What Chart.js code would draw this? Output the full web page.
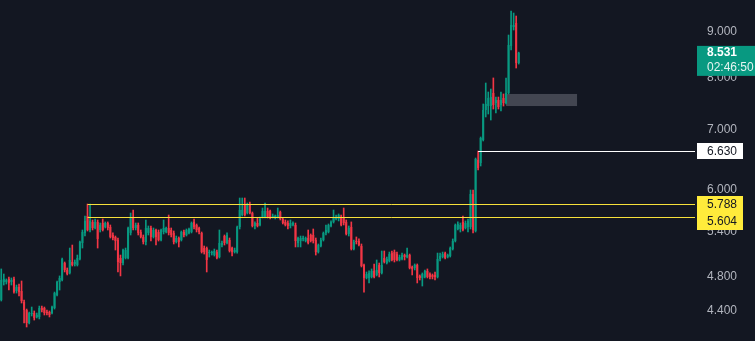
<!DOCTYPE html>
<html>
<head>
<meta charset="utf-8">
<script src="https://cdn.jsdelivr.net/npm/chart.js@4.4.1/dist/chart.umd.min.js"></script>
<style>
  html, body { margin: 0; padding: 0; background: #131722; overflow: hidden; }
  #wrap { width: 755px; height: 341px; }
</style>
</head>
<body>
<div id="wrap"><canvas id="chart" width="755" height="341"></canvas></div>
<script>
// candle data (oldest first)
const opens = [
  4.527,4.741,4.741,4.778,4.741,4.778,4.632,4.680,4.632,4.503,4.412,4.268,4.367,4.378,4.334,4.334,4.435,4.435,4.390,4.390,
  4.378,4.435,4.585,4.741,4.765,4.977,4.889,4.852,4.990,4.965,4.952,5.029,5.239,5.376,5.615,5.417,5.530,5.445,5.530,5.417,
  5.515,5.459,5.515,5.459,5.348,5.321,5.280,5.042,4.977,5.042,5.042,5.376,5.601,5.445,5.487,5.389,5.321,5.253,5.376,5.445,
  5.321,5.417,5.389,5.280,5.389,5.389,5.445,5.417,5.376,5.253,5.307,5.280,5.389,5.348,5.376,5.389,5.530,5.487,5.445,5.376,
  5.172,5.172,5.106,5.106,5.080,5.119,5.054,5.212,5.334,5.239,5.280,5.172,5.119,5.119,5.459,5.629,5.775,5.658,5.775,5.658,
  5.473,5.515,5.487,5.601,5.601,5.687,5.687,5.601,5.601,5.601,5.673,5.572,5.530,5.515,5.473,5.487,5.487,5.239,5.266,5.294,
  5.266,5.307,5.348,5.348,5.280,5.119,5.199,5.280,5.376,5.389,5.473,5.530,5.572,5.572,5.601,5.586,5.530,5.362,5.459,5.159,
  5.266,5.266,5.199,4.952,4.790,4.790,4.802,4.877,4.827,4.952,4.852,5.042,4.977,5.003,5.106,5.119,5.093,5.016,5.029,5.080,
  5.054,5.080,4.927,4.914,4.952,4.815,4.790,4.802,4.877,4.839,4.827,4.827,4.802,5.029,5.054,5.106,5.054,5.067,5.159,5.266,
  5.431,5.431,5.530,5.445,5.459,5.459,5.940,5.403,6.482,6.432,6.823,7.369,7.444,7.444,7.697,7.502,7.560,7.464,7.599,7.502,
  7.697,8.683,9.116,9.211,8.312
];
const highs = [
  4.902,4.839,4.778,4.802,4.790,4.802,4.704,4.716,4.753,4.527,4.423,4.390,4.446,4.401,4.378,4.457,4.457,4.446,4.412,4.401,
  4.457,4.620,4.753,4.815,5.042,4.990,4.914,5.172,5.212,5.016,5.080,5.266,5.417,5.615,5.790,5.790,5.558,5.572,5.558,5.515,
  5.572,5.530,5.530,5.487,5.376,5.334,5.307,5.080,5.159,5.172,5.459,5.658,5.702,5.515,5.515,5.417,5.348,5.558,5.473,5.473,
  5.445,5.431,5.417,5.431,5.558,5.459,5.629,5.445,5.403,5.334,5.321,5.403,5.417,5.431,5.445,5.530,5.572,5.501,5.459,5.389,
  5.199,5.186,5.146,5.133,5.159,5.146,5.417,5.266,5.348,5.376,5.307,5.186,5.172,5.473,5.880,5.880,5.880,5.805,5.820,5.673,
  5.530,5.586,5.601,5.731,5.805,5.731,5.702,5.644,5.629,5.731,5.687,5.586,5.558,5.544,5.558,5.530,5.515,5.321,5.334,5.334,
  5.321,5.417,5.362,5.431,5.307,5.226,5.307,5.389,5.487,5.501,5.544,5.702,5.629,5.644,5.629,5.731,5.558,5.473,5.530,5.280,
  5.321,5.294,5.226,4.965,4.864,4.877,4.902,4.965,5.016,4.977,5.133,5.133,5.054,5.119,5.133,5.146,5.119,5.080,5.106,5.093,
  5.172,5.093,4.939,4.965,4.965,4.827,4.852,4.889,4.902,4.852,4.839,4.864,5.106,5.106,5.119,5.119,5.093,5.186,5.294,5.501,
  5.530,5.515,5.615,5.544,5.572,6.002,6.002,6.515,6.632,6.876,7.483,7.897,7.717,7.776,8.000,7.618,7.618,7.717,7.678,7.999,
  8.931,9.497,9.449,9.377,8.547
];
const lows = [
  4.515,4.704,4.716,4.644,4.704,4.608,4.608,4.573,4.492,4.268,4.224,4.257,4.345,4.300,4.323,4.312,4.390,4.356,4.356,4.334,
  4.367,4.423,4.573,4.644,4.753,4.864,4.827,4.839,4.939,4.939,4.939,5.016,5.172,5.334,5.403,5.389,5.417,5.431,5.172,5.389,
  5.403,5.445,5.417,5.307,5.280,5.146,4.864,4.815,4.952,5.029,5.029,5.348,5.417,5.417,5.348,5.307,5.226,5.212,5.348,5.266,
  5.307,5.212,5.266,5.266,5.362,5.376,5.348,5.321,5.226,5.239,5.186,5.266,5.321,5.334,5.362,5.376,5.431,5.389,5.362,5.106,
  5.093,4.864,5.054,5.080,5.067,5.029,5.042,5.186,5.212,5.226,5.119,5.067,5.106,5.106,5.431,5.615,5.615,5.644,5.644,5.459,
  5.431,5.459,5.473,5.586,5.586,5.586,5.572,5.586,5.572,5.586,5.558,5.501,5.473,5.431,5.445,5.473,5.186,5.186,5.186,5.266,
  5.253,5.226,5.253,5.239,5.080,5.106,5.186,5.266,5.348,5.376,5.459,5.515,5.558,5.544,5.473,5.487,5.348,5.334,5.146,5.146,
  5.226,5.199,4.927,4.620,4.778,4.729,4.790,4.790,4.815,4.802,4.839,4.977,4.965,4.990,5.003,4.990,5.003,5.003,5.016,5.016,
  5.042,4.902,4.827,4.889,4.729,4.765,4.692,4.790,4.790,4.778,4.778,4.765,4.790,5.003,5.042,5.029,5.042,5.054,5.146,5.253,
  5.417,5.389,5.403,5.431,5.389,5.431,5.376,5.389,6.318,6.383,6.806,7.238,7.293,7.182,7.387,7.312,7.387,7.350,7.444,7.483,
  7.678,8.594,9.046,8.206,8.290
];
const closes = [
  4.765,4.778,4.765,4.729,4.765,4.620,4.680,4.620,4.515,4.412,4.268,4.378,4.378,4.323,4.356,4.435,4.412,4.378,4.378,4.356,
  4.446,4.608,4.741,4.790,5.029,4.889,4.839,5.016,4.952,4.990,5.042,5.253,5.389,5.544,5.417,5.544,5.445,5.530,5.294,5.487,
  5.417,5.515,5.445,5.321,5.307,5.266,4.990,4.977,5.146,5.146,5.445,5.601,5.445,5.487,5.376,5.321,5.253,5.445,5.445,5.321,
  5.417,5.321,5.280,5.417,5.445,5.445,5.376,5.348,5.253,5.307,5.253,5.389,5.348,5.417,5.431,5.515,5.459,5.417,5.389,5.119,
  5.119,5.016,5.119,5.119,5.133,5.042,5.239,5.239,5.239,5.348,5.133,5.119,5.146,5.459,5.702,5.702,5.629,5.775,5.658,5.473,
  5.515,5.473,5.572,5.687,5.687,5.601,5.601,5.615,5.615,5.629,5.572,5.515,5.487,5.473,5.515,5.515,5.266,5.307,5.307,5.307,
  5.307,5.239,5.266,5.266,5.119,5.212,5.280,5.376,5.417,5.487,5.530,5.586,5.601,5.629,5.487,5.515,5.362,5.445,5.159,5.253,
  5.253,5.212,4.939,4.790,4.839,4.852,4.877,4.802,4.889,4.852,4.952,4.990,5.029,5.093,5.016,5.016,5.016,5.054,5.080,5.054,
  5.080,4.914,4.902,4.952,4.790,4.790,4.839,4.877,4.802,4.802,4.802,4.802,5.029,5.067,5.093,5.042,5.080,5.172,5.266,5.487,
  5.501,5.487,5.417,5.515,5.544,5.940,5.417,6.498,6.350,6.858,7.369,7.483,7.599,7.618,7.464,7.560,7.425,7.560,7.502,7.697,
  8.705,9.163,9.163,8.312,8.531
];

const yTicks = [4.4, 4.8, 5.4, 6, 7, 8, 9];
const lastPrice = 8.531;
const countdown = "02:46:50";
// horizontal levels and the candle where each one starts
const levelPrices = [5.788, 5.604, 6.630];
const levelStart = [34, 34, 188];
// grey zone: candle range and price range
const zoneFrom = 199, zoneTo = 227;
const zoneLow = 7.444, zoneHigh = 7.678;
const emptySlots = 69; // blank space right of the last candle

const UP = "#089981";
const DOWN = "#f23645";
const BG = "#131722";
const FONT = "'Liberation Sans', Arial, sans-serif";

const labels = [];
for (let i = 0; i < opens.length + emptySlots; i++) labels.push(String(i));
const bodies = opens.map((o, i) => [o, closes[i]]);
const wicks = lows.map((l, i) => [l, highs[i]]);
const colors = opens.map((o, i) => closes[i] >= o ? UP : DOWN);

const overlay = {
  id: "overlay",
  beforeDraw(chart) {
    const ctx = chart.ctx;
    ctx.save();
    ctx.fillStyle = BG;
    ctx.fillRect(0, 0, chart.width, chart.height);
    ctx.restore();
  },
  beforeDatasetsDraw(chart) {
    const ctx = chart.ctx, xs = chart.scales.x, ys = chart.scales.y;
    const x1 = xs.getPixelForValue(zoneFrom), x2 = xs.getPixelForValue(zoneTo);
    const y1 = ys.getPixelForValue(zoneHigh), y2 = ys.getPixelForValue(zoneLow);
    ctx.save();
    ctx.fillStyle = "#434651";
    ctx.fillRect(x1, y1, x2 - x1, y2 - y1);
    ctx.restore();
  },
  afterDatasetsDraw(chart) {
    const ctx = chart.ctx, xs = chart.scales.x, ys = chart.scales.y;
    const right = chart.chartArea.right;
    ctx.save();
    ctx.lineWidth = 1;
    levelPrices.forEach((p, i) => {
      const y = Math.round(ys.getPixelForValue(p)) + 0.5;
      ctx.strokeStyle = i < 2 ? "#f7e13b" : "#ffffff";
      ctx.beginPath();
      ctx.moveTo(xs.getPixelForValue(levelStart[i]), y);
      ctx.lineTo(right, y);
      ctx.stroke();
    });
    ctx.restore();
  },
  afterDraw(chart) {
    const ctx = chart.ctx, ys = chart.scales.y;
    const left = chart.chartArea.right + 2;
    const tx = chart.chartArea.right + 12;
    ctx.save();
    ctx.textBaseline = "middle";
    ctx.textAlign = "left";

    // last price + countdown
    const yl = ys.getPixelForValue(lastPrice);
    ctx.fillStyle = UP;
    ctx.fillRect(left, yl - 7, chart.width - left, 30);
    ctx.fillStyle = "#ffffff";
    ctx.font = "bold 12px " + FONT;
    ctx.fillText(lastPrice.toFixed(3), tx, yl);
    ctx.font = "12px " + FONT;
    ctx.fillStyle = "#e6f4f1";
    ctx.fillText(countdown, tx, yl + 15);

    // white level
    const yw = ys.getPixelForValue(levelPrices[2]);
    ctx.fillStyle = "#ffffff";
    ctx.fillRect(left, Math.round(yw) - 8, 46, 16);
    ctx.fillStyle = BG;
    ctx.fillText(levelPrices[2].toFixed(3), tx, yw + 0.5);

    // yellow levels, stacked so they do not overlap
    let prevBottom = -100;
    [0, 1].forEach(i => {
      let yc = ys.getPixelForValue(levelPrices[i]);
      if (yc - 8 < prevBottom) yc = prevBottom + 8;
      ctx.fillStyle = "#ffeb3b";
      ctx.fillRect(left, Math.round(yc) - 8, 46, 17);
      ctx.fillStyle = BG;
      ctx.fillText(levelPrices[i].toFixed(3), tx, yc + 0.5);
      prevBottom = Math.round(yc) + 9;
    });
    ctx.restore();
  }
};

new Chart(document.getElementById("chart"), {
  type: "bar",
  data: {
    labels: labels,
    datasets: [
      {
        data: wicks,
        backgroundColor: colors,
        borderWidth: 0,
        barThickness: 1,
        grouped: false,
        minBarLength: 1
      },
      {
        data: bodies,
        backgroundColor: colors,
        borderWidth: 0,
        categoryPercentage: 1,
        barPercentage: 0.8,
        grouped: false,
        minBarLength: 1
      }
    ]
  },
  options: {
    responsive: false,
    animation: false,
    devicePixelRatio: 1,
    layout: { padding: 0 },
    plugins: { legend: { display: false }, tooltip: { enabled: false } },
    scales: {
      x: { type: "category", display: false },
      y: {
        type: "logarithmic",
        position: "right",
        bounds: "data",
        min: 4.075,
        max: 9.77,
        grid: { display: false, drawTicks: false },
        border: { display: false },
        ticks: {
          color: "#b2b5be",
          font: { family: FONT, size: 12 },
          padding: 12,
          autoSkip: false,
          callback: v => Number(v).toFixed(3)
        },
        afterBuildTicks: s => { s.ticks = yTicks.map(v => ({ value: v })); },
        afterFit: s => { s.width = 60; s.paddingTop = 0; s.paddingBottom = 0; }
      }
    }
  },
  plugins: [overlay]
});
</script>
</body>
</html>
